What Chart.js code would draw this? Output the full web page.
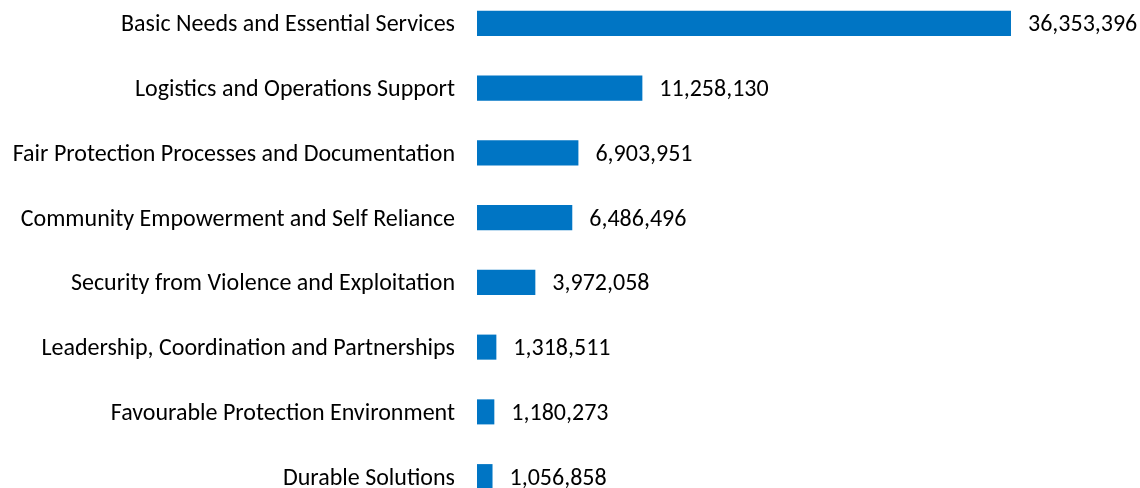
<!DOCTYPE html>
<html>
<head>
<meta charset="utf-8">
<script src="https://cdn.jsdelivr.net/npm/chart.js@4"></script>
<style>
    html, body { margin: 0; padding: 0; background: #fff; overflow: hidden; }
    .holder { position: absolute; left: 0; top: -9px; width: 1140px; height: 518px; }
</style>
</head>
<body>
<div class="holder"><canvas id="budget"></canvas></div>
<script>
// категории и значения
const categories = [
    "Basic Needs and Essential Services",
    "Logistics and Operations Support",
    "Fair Protection Processes and Documentation",
    "Community Empowerment and Self Reliance",
    "Security from Violence and Exploitation",
    "Leadership, Coordination and Partnerships",
    "Favourable Protection Environment",
    "Durable Solutions"
];
const amounts = [36353396, 11258130, 6903951, 6486496, 3972058, 1318511, 1180273, 1056858];

const FONT = "Carlito, Calibri, Lato, sans-serif";

// подписи значений справа от полос
const valueLabels = {
    id: "valueLabels",
    afterDatasetsDraw(chart) {
        const ctx = chart.ctx;
        const meta = chart.getDatasetMeta(0);
        ctx.save();
        ctx.font = "24px " + FONT;
        ctx.fillStyle = "#000";
        ctx.textAlign = "left";
        ctx.textBaseline = "middle";
        meta.data.forEach((bar, i) => {
            ctx.fillText(amounts[i].toLocaleString("en-US"), bar.x + 17, bar.y + 2);
        });
        ctx.restore();
    }
};

new Chart(document.getElementById("budget").getContext("2d"), {
    type: "bar",
    data: {
        labels: categories,
        datasets: [{
            data: amounts,
            backgroundColor: "#0075C4",
            borderWidth: 0,
            barPercentage: 0.387,
            categoryPercentage: 1
        }]
    },
    options: {
        indexAxis: "y",
        responsive: true,
        maintainAspectRatio: false,
        animation: false,
        layout: { padding: { left: 0, right: 2, top: 0, bottom: 0 } },
        plugins: {
            legend: { display: false },
            tooltip: { enabled: false }
        },
        scales: {
            x: {
                display: false,
                min: 0,
                max: 45000000
            },
            y: {
                grid: { display: false, drawTicks: false },
                border: { display: false },
                ticks: {
                    color: "#000",
                    padding: 22,
                    labelOffset: 2,
                    font: { family: FONT, size: 24 }
                },
                afterFit: (scale) => {
                    scale.width = 477;
                    scale.paddingTop = 0;
                    scale.paddingBottom = 0;
                }
            }
        }
    },
    plugins: [valueLabels]
});
</script>
</body>
</html>
